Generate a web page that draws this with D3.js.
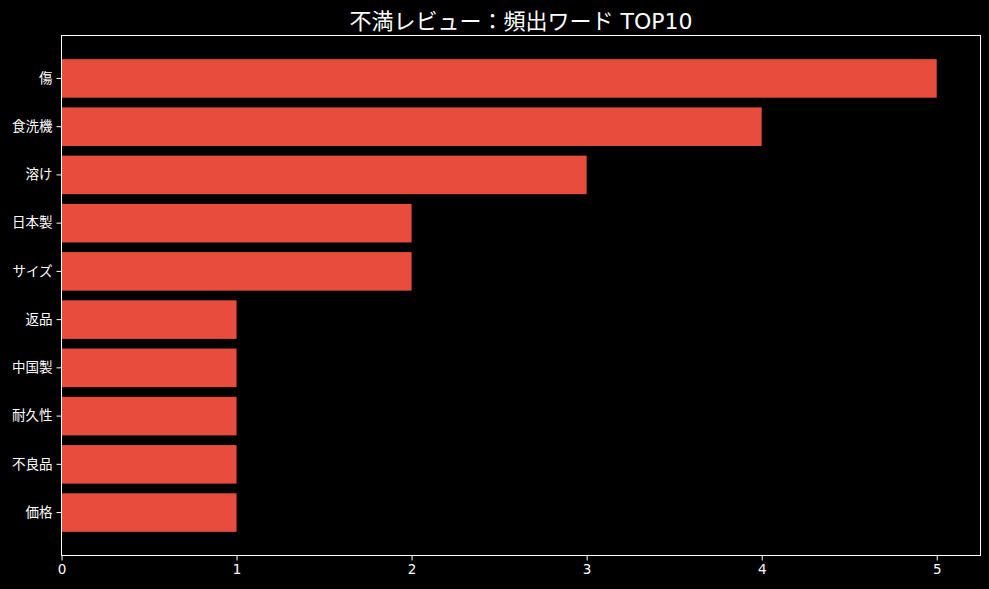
<!DOCTYPE html>
<html>
<head>
<meta charset="utf-8">
<script src="https://cdn.jsdelivr.net/npm/d3@7"></script>
<style>
  html, body { margin: 0; padding: 0; background: #000; }
  svg { display: block; }
  text { font-family: "DejaVu Sans", "Noto Sans CJK JP", sans-serif; fill: #fff; }
</style>
</head>
<body>
<svg id="chart" width="989" height="589"></svg>
<script>
const words = ["傷", "食洗機", "溶け", "日本製", "サイズ", "返品", "中国製", "耐久性", "不良品", "価格"];
const counts = [5, 4, 3, 2, 2, 1, 1, 1, 1, 1];
const xTicks = [0, 1, 2, 3, 4, 5];
const title = "不満レビュー：頻出ワード TOP10";

const svg = d3.select("#chart");
const margin = { top: 35.5, right: 8.5, bottom: 33.5, left: 61.5 };
const width = +svg.attr("width");
const height = +svg.attr("height");

const x = d3
  .scaleLinear()
  .domain([0, 5.25])
  .range([margin.left, width - margin.right]);

const y = d3
  .scaleBand()
  .domain(words)
  .range([margin.top, height - margin.bottom])
  .paddingInner(0.2)
  .paddingOuter(0.49);

svg.append("rect")
  .attr("width", width)
  .attr("height", height)
  .attr("fill", "#000");

svg
  .selectAll("rect.bar")
  .data(words)
  .enter()
  .append("rect")
  .attr("class", "bar")
  .attr("x", x(0))
  .attr("y", (d) => y(d))
  .attr("width", (d, i) => x(counts[i]) - x(0))
  .attr("height", y.bandwidth())
  .attr("fill", "#e74c3c");

// frame
svg.append("rect")
  .attr("x", margin.left)
  .attr("y", margin.top)
  .attr("width", width - margin.right - margin.left)
  .attr("height", height - margin.bottom - margin.top)
  .attr("fill", "none")
  .attr("stroke", "#fff")
  .attr("stroke-width", 1);

const styleAxis = (g) => {
  g.select(".domain").remove();
  g.selectAll("line").attr("stroke", "#fff");
  g.selectAll("text").attr("font-size", 13.5).attr("fill", "#fff").attr("font-family", null);
};

const xAxis = d3.axisBottom(x).tickValues(xTicks).tickSize(5).tickPadding(4).tickFormat(d3.format("d"));
svg.append("g")
  .attr("transform", `translate(0, ${height - margin.bottom})`)
  .call(xAxis)
  .call(styleAxis);

const yAxis = d3.axisLeft(y).tickSize(5).tickPadding(4);
svg.append("g")
  .attr("transform", `translate(${margin.left}, 0)`)
  .call(yAxis)
  .call(styleAxis);

svg.append("text")
  .attr("x", (margin.left + width - margin.right) / 2)
  .attr("y", 29)
  .attr("text-anchor", "middle")
  .attr("font-size", 22)
  .text(title);
</script>
</body>
</html>
